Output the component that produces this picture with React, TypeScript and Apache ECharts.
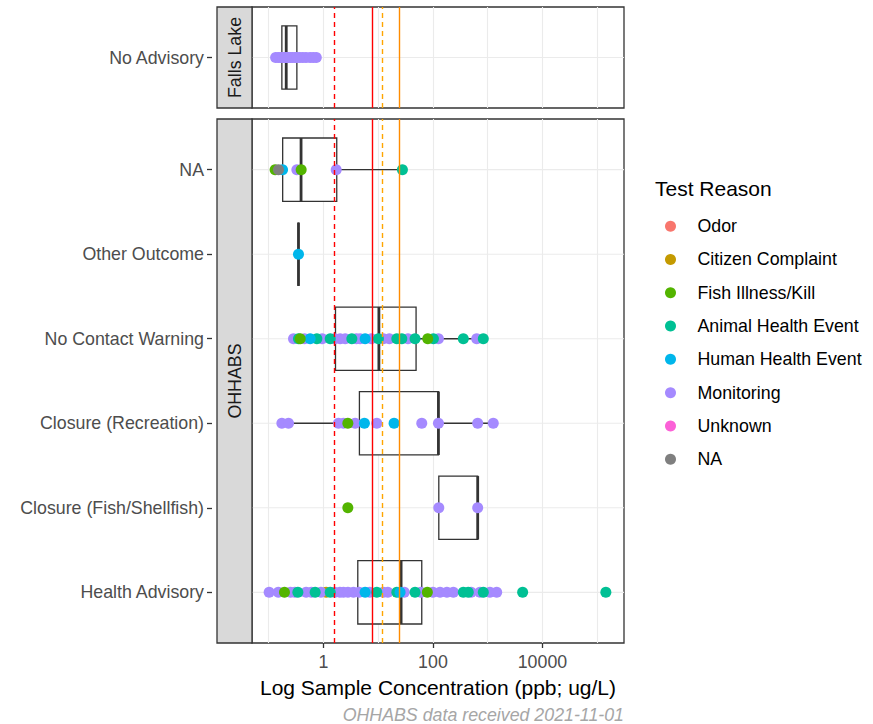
import React, { useEffect, useRef } from "react";
import * as echarts from "echarts";

// ---------- data ----------
const reasons = [
  "Odor",
  "Citizen Complaint",
  "Fish Illness/Kill",
  "Animal Health Event",
  "Human Health Event",
  "Monitoring",
  "Unknown",
  "NA",
];
const reasonColors = ["#F8766D", "#C49A00", "#53B400", "#00C094", "#00B6EB", "#A58AFF", "#FB61D7", "#7F7F7F"];
// order in which the point layers are stacked (first = bottom)
const drawOrder = [
  "Citizen Complaint",
  "Monitoring",
  "Animal Health Event",
  "Human Health Event",
  "Fish Illness/Kill",
  "Odor",
  "Unknown",
  "NA",
];

const facetNames = ["Falls Lake", "OHHABS"];
const fallsOutcomes = ["No Advisory"];
// bottom-to-top order (ggplot discrete axis)
const ohhabsOutcomes = [
  "Health Advisory",
  "Closure (Fish/Shellfish)",
  "Closure (Recreation)",
  "No Contact Warning",
  "Other Outcome",
  "NA",
];

// box stats: [lower whisker, Q1, median, Q3, upper whisker] in ppb
const fallsBoxStats = [[0.134, 0.174, 0.209, 0.327, 0.74]];
const ohhabsBoxStats = [
  [0.102, 4.24, 26.2, 62.5, 1460],
  [128, 128, 657, 657, 657],
  [0.174, 4.54, 126, 126, 1265],
  [0.284, 1.66, 10.3, 49.2, 832],
  [0.35, 0.35, 0.35, 0.35, 0.35],
  [0.131, 0.18, 0.39, 1.75, 27.7],
];

// points: [concentration ppb, test reason]
const ptsNoAdvisory: [number, string][] = [
  [0.134, "Monitoring"], [0.15, "Monitoring"], [0.165, "Monitoring"], [0.18, "Monitoring"],
  [0.195, "Monitoring"], [0.21, "Monitoring"], [0.23, "Monitoring"], [0.25, "Monitoring"],
  [0.27, "Monitoring"], [0.3, "Monitoring"], [0.33, "Monitoring"], [0.37, "Monitoring"],
  [0.42, "Monitoring"], [0.48, "Monitoring"], [0.57, "Monitoring"], [0.65, "Monitoring"],
  [0.74, "Monitoring"],
];
const ptsHealthAdvisory: [number, string][] = [
  [0.102, "Monitoring"], [0.15, "Monitoring"], [0.194, "Fish Illness/Kill"], [0.25, "Monitoring"],
  [0.341, "Animal Health Event"], [0.3, "Monitoring"], [0.483, "Monitoring"], [0.6, "Monitoring"],
  [0.706, "Animal Health Event"], [0.9, "Monitoring"], [1.12, "Citizen Complaint"], [1.33, "Animal Health Event"],
  [1.6, "Monitoring"], [2.0, "Monitoring"], [2.32, "Monitoring"], [2.8, "Monitoring"],
  [3.53, "Monitoring"], [4.5, "Monitoring"], [5.77, "Human Health Event"], [7.0, "Monitoring"],
  [9.43, "Animal Health Event"], [12.4, "Monitoring"], [15, "Monitoring"], [21.9, "Animal Health Event"],
  [25.1, "Human Health Event"], [30, "Monitoring"], [47.1, "Animal Health Event"], [60, "Monitoring"],
  [79, "Fish Illness/Kill"], [100, "Monitoring"], [135, "Monitoring"], [180, "Monitoring"],
  [236, "Monitoring"], [359, "Animal Health Event"], [442, "Animal Health Event"], [500, "Monitoring"],
  [723, "Monitoring"], [832, "Animal Health Event"], [1100, "Monitoring"], [1460, "Monitoring"],
  [4350, "Animal Health Event"], [144000, "Animal Health Event"],
];
const ptsClosureFish: [number, string][] = [
  [2.79, "Fish Illness/Kill"], [128, "Monitoring"], [657, "Monitoring"],
];
const ptsClosureRec: [number, string][] = [
  [0.174, "Monitoring"], [0.23, "Monitoring"], [1.88, "Monitoring"], [2.32, "Monitoring"],
  [2.79, "Fish Illness/Kill"], [3.79, "Monitoring"], [5.6, "Human Health Event"], [9.43, "Monitoring"],
  [19.5, "Human Health Event"], [62.5, "Monitoring"], [126, "Monitoring"], [657, "Monitoring"],
  [1265, "Monitoring"],
];
const ptsNoContact: [number, string][] = [
  [0.284, "Monitoring"], [0.35, "Animal Health Event"], [0.376, "Fish Illness/Kill"], [0.45, "Monitoring"],
  [0.571, "Human Health Event"], [0.758, "Animal Health Event"], [0.95, "Monitoring"], [1.33, "Animal Health Event"],
  [1.6, "Monitoring"], [2.02, "Monitoring"], [2.5, "Monitoring"], [3.3, "Animal Health Event"],
  [4.0, "Monitoring"], [4.67, "Monitoring"], [5.77, "Human Health Event"], [7.5, "Monitoring"],
  [10.1, "Animal Health Event"], [12.4, "Monitoring"], [16, "Monitoring"], [21.9, "Animal Health Event"],
  [27, "Animal Health Event"], [35, "Monitoring"], [47.1, "Animal Health Event"], [80.4, "Fish Illness/Kill"],
  [102, "Animal Health Event"], [126, "Monitoring"], [359, "Animal Health Event"], [630, "Monitoring"],
  [832, "Animal Health Event"],
];
const ptsOtherOutcome: [number, string][] = [[0.35, "Human Health Event"]];
const ptsNA: [number, string][] = [
  [0.131, "Fish Illness/Kill"], [0.179, "Human Health Event"], [0.151, "NA"], [0.327, "Monitoring"],
  [0.392, "Fish Illness/Kill"], [1.71, "Monitoring"], [27.7, "Animal Health Event"],
];
const fallsPoints = [ptsNoAdvisory];
const ohhabsPoints = [ptsHealthAdvisory, ptsClosureFish, ptsClosureRec, ptsNoContact, ptsOtherOutcome, ptsNA];

// reference thresholds (ppb)
const thresholdValues = [1.55, 8, 12, 24];
const xTickValues = [1, 100, 10000];
const xGridValues = [0.1, 1, 10, 100, 1000, 10000, 100000];

const xAxisTitle = "Log Sample Concentration (ppb; ug/L)";
const legendTitle = "Test Reason";
const captionText = "OHHABS data received 2021-11-01";

// ---------- styles / layout ----------
const thresholdColors = ["#FF0000", "#FF0000", "#FFA500", "#FF8C00"];
const thresholdDashed = [true, false, true, false];
const FONT = "'Liberation Sans', Arial, sans-serif";
const TXT = 17.8;
const X_MIN = -1.305;
const X_MAX = 5.49;
const PANEL_LEFT = 252;
const PANEL_W = 372;
const TOP1 = 7;
const H1 = 101;
const TOP2 = 119;
const H2 = 524;
const BOX_W = 0.75;
const DARK = "#333333";
const GRID_COLOR = "#EBEBEB";

function App() {
  const ref = useRef<HTMLDivElement>(null);

  useEffect(() => {
    if (!ref.current) return;
    const chart = echarts.init(ref.current, null, { renderer: "svg" });

    const renderBox = (_params: any, api: any) => {
      const y = api.value(0);
      const lo = api.value(1), q1 = api.value(2), md = api.value(3), q3 = api.value(4), hi = api.value(5);
      const half = api.size([0, BOX_W])[1] / 2;
      const pLo = api.coord([lo, y]);
      const pQ1 = api.coord([q1, y]);
      const pMd = api.coord([md, y]);
      const pQ3 = api.coord([q3, y]);
      const pHi = api.coord([hi, y]);
      const cy = pMd[1];
      const ls = { stroke: DARK, lineWidth: 1.3 };
      return {
        type: "group",
        children: [
          { type: "line", shape: { x1: pLo[0], y1: cy, x2: pQ1[0], y2: cy }, style: ls },
          { type: "line", shape: { x1: pQ3[0], y1: cy, x2: pHi[0], y2: cy }, style: ls },
          {
            type: "rect",
            shape: { x: pQ1[0], y: cy - half, width: pQ3[0] - pQ1[0], height: 2 * half },
            style: { fill: "#FFFFFF", stroke: DARK, lineWidth: 1.3 },
          },
          { type: "line", shape: { x1: pMd[0], y1: cy - half, x2: pMd[0], y2: cy + half }, style: { stroke: DARK, lineWidth: 2.8 } },
        ],
      };
    };

    // horizontal grid line for a category, spanning the whole panel
    const renderHGrid = (params: any, api: any) => {
      const y = api.value(0);
      const cs = params.coordSys;
      const p = api.coord([0, y]);
      return {
        type: "rect",
        shape: { x: cs.x, y: p[1] - 0.6, width: cs.width, height: 1.2 },
        style: { fill: GRID_COLOR },
      };
    };

    const facets = [
      { outcomes: fallsOutcomes, boxes: fallsBoxStats, points: fallsPoints },
      { outcomes: ohhabsOutcomes, boxes: ohhabsBoxStats, points: ohhabsPoints },
    ];

    const series: any[] = [];
    facets.forEach((f, gi) => {
      // vertical grid lines
      series.push({
        type: "line",
        name: "grid" + gi,
        xAxisIndex: gi,
        yAxisIndex: gi,
        data: [],
        z: 1,
        silent: true,
        markLine: {
          silent: true,
          z: 1,
          symbol: ["none", "none"],
          label: { show: false },
          lineStyle: { color: GRID_COLOR, width: 1.1, type: "solid" },
          data: xGridValues.map((v) => ({ xAxis: Math.log10(v) })),
        },
      });
      // horizontal grid lines
      series.push({
        type: "custom",
        name: "hgrid" + gi,
        xAxisIndex: gi,
        yAxisIndex: gi,
        z: 1,
        silent: true,
        renderItem: renderHGrid,
        encode: { y: 0 },
        data: f.outcomes.map((_o, i) => [i + 1]),
      });
      // boxes
      series.push({
        type: "custom",
        name: "box" + gi,
        xAxisIndex: gi,
        yAxisIndex: gi,
        z: 2,
        silent: true,
        renderItem: renderBox,
        encode: { x: [1, 2, 3, 4, 5], y: 0 },
        data: f.boxes.map((b, i) => [i + 1, ...b.map((v) => Math.log10(v))]),
      });
      // points
      drawOrder.forEach((reason) => {
        const ri = reasons.indexOf(reason);
        const data: number[][] = [];
        f.points.forEach((pts, i) => {
          pts.forEach(([v, r]) => {
            if (r === reason) data.push([Math.log10(v), i + 1]);
          });
        });
        series.push({
          type: "scatter",
          name: reason,
          xAxisIndex: gi,
          yAxisIndex: gi,
          z: 3,
          symbol: "circle",
          symbolSize: 11,
          itemStyle: { color: reasonColors[ri], opacity: 1 },
          data,
        });
      });
      // thresholds
      series.push({
        type: "line",
        name: "thr" + gi,
        xAxisIndex: gi,
        yAxisIndex: gi,
        data: [],
        z: 4,
        markLine: {
          silent: true,
          z: 4,
          symbol: ["none", "none"],
          label: { show: false },
          data: thresholdValues.map((v, k) => ({
            xAxis: Math.log10(v),
            lineStyle: { color: thresholdColors[k], width: 1.4, type: thresholdDashed[k] ? [5, 4] : "solid" },
          })),
        },
      });
    });

    const axisText = { color: "#4D4D4D", fontSize: TXT, fontFamily: FONT };

    const option: any = {
      animation: false,
      backgroundColor: "#FFFFFF",
      textStyle: { fontFamily: FONT },
      title: [
        {
          text: legendTitle,
          left: 655,
          top: 178,
          padding: 0,
          textStyle: { fontSize: 21, fontWeight: "normal", color: "#000000", fontFamily: FONT },
        },
        {
          text: captionText,
          right: 249,
          top: 706,
          padding: 0,
          textStyle: {
            fontSize: TXT,
            lineHeight: 18,
            fontWeight: "normal",
            fontStyle: "italic",
            color: "#A6A6A6",
            fontFamily: FONT,
          },
        },
      ],
      legend: {
        orient: "vertical",
        left: 665,
        top: 209.5,
        padding: 0,
        itemGap: 0,
        itemWidth: 44,
        itemHeight: 11,
        selectedMode: false,
        data: reasons.map((r) => ({ name: r, icon: "circle" })),
        textStyle: { fontSize: TXT, color: "#000000", fontFamily: FONT, lineHeight: 33.3 },
      },
      grid: [
        { left: PANEL_LEFT, top: TOP1, width: PANEL_W, height: H1, show: true, borderColor: DARK, borderWidth: 1.3, backgroundColor: "#FFFFFF" },
        { left: PANEL_LEFT, top: TOP2, width: PANEL_W, height: H2, show: true, borderColor: DARK, borderWidth: 1.3, backgroundColor: "#FFFFFF" },
      ],
      xAxis: [
        {
          gridIndex: 0,
          type: "value",
          min: X_MIN,
          max: X_MAX,
          axisLine: { show: false, onZero: false },
          axisTick: { show: false },
          axisLabel: { show: false },
          splitLine: { show: false },
        },
        {
          gridIndex: 1,
          type: "value",
          min: X_MIN,
          max: X_MAX,
          axisLine: { show: false, onZero: false },
          axisTick: {
            show: true,
            length: 5,
            lineStyle: { color: DARK, width: 1.3 },
            customValues: xTickValues.map((v) => Math.log10(v)),
          },
          axisLabel: {
            ...axisText,
            margin: 10,
            customValues: xTickValues.map((v) => Math.log10(v)),
            formatter: (v: number) => String(Math.round(Math.pow(10, v))),
          },
          splitLine: { show: false },
          name: xAxisTitle,
          nameLocation: "middle",
          nameGap: 34,
          nameTextStyle: { fontSize: 21, color: "#000000", fontFamily: FONT },
        },
      ],
      yAxis: facets.map((f, gi) => ({
        gridIndex: gi,
        type: "value",
        min: 0.4,
        max: f.outcomes.length + 0.6,
        offset: 40,
        axisLine: { show: false, onZero: false },
        axisTick: {
          show: true,
          length: 5,
          lineStyle: { color: DARK, width: 1.3 },
          customValues: f.outcomes.map((_o, i) => i + 1),
        },
        axisLabel: {
          ...axisText,
          margin: 8,
          customValues: f.outcomes.map((_o, i) => i + 1),
          formatter: (v: number) => f.outcomes[Math.round(v) - 1] ?? "",
        },
        splitLine: { show: false },
      })),
      graphic: [
        {
          type: "rect",
          z: 10,
          shape: { x: 217, y: TOP1, width: 35, height: H1 },
          style: { fill: "#D9D9D9", stroke: DARK, lineWidth: 1.3 },
        },
        {
          type: "text",
          z: 11,
          x: 234.5,
          y: TOP1 + H1 / 2,
          rotation: Math.PI / 2,
          style: {
            text: facetNames[0],
            fill: "#1A1A1A",
            font: `${TXT}px ${FONT}`,
            align: "center",
            verticalAlign: "middle",
            textAlign: "center",
            textVerticalAlign: "middle",
          },
        },
        {
          type: "rect",
          z: 10,
          shape: { x: 217, y: TOP2, width: 35, height: H2 },
          style: { fill: "#D9D9D9", stroke: DARK, lineWidth: 1.3 },
        },
        {
          type: "text",
          z: 11,
          x: 234.5,
          y: TOP2 + H2 / 2,
          rotation: Math.PI / 2,
          style: {
            text: facetNames[1],
            fill: "#1A1A1A",
            font: `${TXT}px ${FONT}`,
            align: "center",
            verticalAlign: "middle",
            textAlign: "center",
            textVerticalAlign: "middle",
          },
        },
      ],
      series,
    };

    chart.setOption(option);
    return () => {
      chart.dispose();
    };
  }, []);

  return (
    <div
      ref={ref}
      style={{ position: "absolute", left: 0, top: 0, width: 873, height: 724, background: "#FFFFFF" }}
    />
  );
}

export default App;
